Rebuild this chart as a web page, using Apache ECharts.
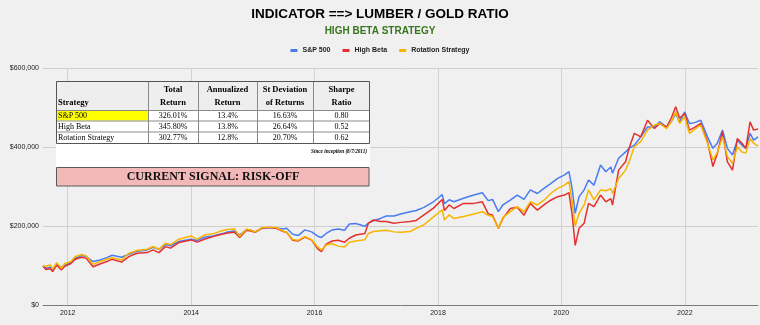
<!DOCTYPE html>
<html>
<head>
<meta charset="utf-8">
<script src="https://cdn.jsdelivr.net/npm/echarts@6/dist/echarts.min.js"></script>
<style>
  html, body { margin: 0; padding: 0; background: #f0f0f0; }
  #chart { width: 760px; height: 325px; }
</style>
</head>
<body>
<div id="chart"></div>
<script>
// Growth of $100,000 since inception, sampled dates
const dates = [
  '2011-08-08','2011-08-25','2011-09-20','2011-10-04','2011-10-28','2011-11-25','2011-12-15',
  '2012-01-20','2012-02-15','2012-03-25','2012-04-20','2012-05-30','2012-07-10','2012-08-20',
  '2012-09-20','2012-11-15','2012-12-28','2013-02-15','2013-04-15','2013-05-20','2013-06-24',
  '2013-08-01','2013-09-01','2013-10-20','2013-12-31','2014-02-05','2014-03-20','2014-05-10',
  '2014-07-01','2014-08-05','2014-09-15','2014-10-15','2014-11-25','2014-12-20','2015-01-15',
  '2015-02-25','2015-04-10','2015-05-20','2015-06-30','2015-07-20','2015-08-25','2015-09-28',
  '2015-11-05','2015-12-15','2016-01-20','2016-02-11','2016-03-10','2016-04-15','2016-05-20',
  '2016-06-27','2016-07-25','2016-09-01','2016-10-25','2016-11-15','2016-12-15','2017-01-25',
  '2017-03-01','2017-04-15','2017-05-25','2017-07-20','2017-08-25','2017-10-10','2017-12-05',
  '2018-01-26','2018-02-08','2018-03-08','2018-04-05','2018-06-01','2018-08-01','2018-09-20',
  '2018-10-25','2018-11-20','2018-12-24','2019-01-20','2019-03-05','2019-04-15','2019-05-25',
  '2019-07-01','2019-08-12','2019-09-20','2019-10-30','2019-12-10','2020-01-20','2020-02-15',
  '2020-03-05','2020-03-23','2020-04-15','2020-05-15','2020-06-10','2020-07-12','2020-08-20',
  '2020-09-20','2020-10-20','2020-10-30','2020-12-05','2021-01-15','2021-02-05','2021-03-08',
  '2021-04-15','2021-05-25','2021-07-05','2021-08-05','2021-09-15','2021-10-12','2021-11-08',
  '2021-12-01','2021-12-31','2022-01-28','2022-02-28','2022-04-05','2022-05-15','2022-06-16',
  '2022-07-12','2022-08-12','2022-09-10','2022-10-10','2022-11-08','2022-12-05','2022-12-28',
  '2023-01-22','2023-02-12','2023-03-10'
];

const sp500 = [
  100000, 94000, 97000, 90000, 104000, 97000, 101000,
  108000, 119500, 126000, 123600, 111000, 115000, 121000,
  127000, 122000, 129600, 137000, 140500, 147000, 142000,
  154000, 151000, 161500, 167500, 164000, 172500, 175800,
  181000, 186000, 188000, 178000, 192000, 190000, 186000,
  195000, 197000, 196000, 193000, 195000, 180000, 177000,
  191000, 186000, 175000, 172000, 182000, 191000, 193000,
  190000, 206000, 207000, 200000, 208000, 214000, 220000,
  226000, 226000, 231000, 237000, 240000, 248000, 262000,
  280000, 257000, 267000, 262000, 271000, 279000, 285000,
  265000, 268000, 237000, 254000, 266000, 279000, 268000,
  292000, 283000, 296000, 308000, 321000, 330000, 338000,
  295000, 233000, 275000, 292000, 317000, 304000, 355000,
  338000, 350000, 334000, 372000, 388000, 397000, 405000,
  426000, 451000, 451000, 464000, 451000, 464000, 485000,
  464000, 489000, 460000, 462000, 468000, 426000, 397000,
  410000, 443000, 397000, 380000, 418000, 405000, 397000,
  435000, 418000, 426010
];

const highBeta = [
  100000, 91000, 93000, 85800, 102000, 90000, 99000,
  106000, 117000, 122000, 119000, 98000, 105000, 111000,
  117000, 109500, 123600, 132000, 133700, 140500, 133700,
  148800, 145000, 159000, 165700, 160000, 167500, 174000,
  180000, 183000, 185000, 172000, 190000, 188000, 185000,
  196000, 197000, 195000, 187000, 185000, 165000, 163000,
  173000, 165000, 143000, 136000, 155000, 163000, 165000,
  160000, 170000, 178000, 182000, 208000, 216000, 212000,
  212000, 208000, 210000, 212000, 215000, 229000, 246000,
  268000, 240000, 254000, 245000, 258000, 258000, 262000,
  232000, 228000, 195000, 220000, 245000, 248000, 228000,
  258000, 241000, 254000, 266000, 275000, 279000, 285000,
  230000, 152000, 195000, 208000, 258000, 250000, 279000,
  262000, 270000, 254000, 342000, 363000, 397000, 435000,
  426000, 468000, 447000, 460000, 451000, 473000, 502000,
  473000, 485000, 443000, 450000, 460000, 414000, 351000,
  384000, 439000, 363000, 342000, 422000, 410000, 397000,
  464000, 443000, 445800
];

const rotation = [
  100000, 99000, 102700, 92000, 108000, 94000, 106000,
  111000, 123600, 128700, 125000, 104000, 111000, 117000,
  121000, 115000, 132000, 139000, 142000, 149000, 142000,
  157000, 154000, 167500, 175800, 167500, 178000, 181000,
  189000, 192000, 193000, 175000, 193000, 190000, 186000,
  197000, 198000, 197000, 188000, 185000, 167000, 165000,
  174000, 166000, 148000, 140000, 153000, 156000, 150000,
  148000, 160000, 163000, 166000, 182000, 187000, 189000,
  190000, 186000, 185000, 187000, 195000, 204000, 224000,
  242000, 216000, 229000, 220000, 225000, 231000, 237000,
  228000, 225000, 195000, 222000, 237000, 250000, 237000,
  262000, 254000, 266000, 283000, 296000, 304000, 313000,
  262000, 201000, 233000, 254000, 292000, 267000, 292000,
  290000, 295000, 283000, 321000, 342000, 363000, 401000,
  414000, 443000, 456000, 460000, 447000, 464000, 489000,
  460000, 477000, 435000, 445000, 456000, 410000, 368000,
  386000, 426000, 376000, 359000, 401000, 388000, 385000,
  422000, 410000, 402770
];

const seriesNames = ['S&P 500', 'High Beta', 'Rotation Strategy'];
const yearTicks = [2012, 2014, 2016, 2018, 2020, 2022];
const startDate = '2011-08-08';
const endDate = '2023-03-10';

// Performance summary table
const statHeaders = [['Strategy'], ['Total', 'Return'], ['Annualized', 'Return'], ['St Deviation', 'of Returns'], ['Sharpe', 'Ratio']];
const statRows = [
  ['S&P 500', '326.01%', '13.4%', '16.63%', '0.80'],
  ['High Beta', '345.80%', '13.8%', '26.64%', '0.52'],
  ['Rotation Strategy', '302.77%', '12.8%', '20.70%', '0.62']
];
const inceptionNote = 'Since inception (8/7/2011)';
const signalText = 'CURRENT SIGNAL: RISK-OFF';

// ---- table drawing helpers ----
const SERIF = '"Liberation Serif", "DejaVu Serif", serif';
const colX = [56, 148, 198, 257, 313, 370];
const rowY = [81, 110, 120.5, 131.5, 143];

function buildTableGraphics() {
  const els = [];
  const Z = 100;
  // white backing panel
  els.push({ type: 'rect', z: Z, shape: { x: 56, y: 81, width: 314, height: 86 }, style: { fill: '#ffffff' } });
  // header band
  els.push({ type: 'rect', z: Z, shape: { x: colX[0], y: rowY[0], width: colX[5] - colX[0], height: rowY[1] - rowY[0] }, style: { fill: '#eeeeee' } });
  // highlighted first cell
  els.push({ type: 'rect', z: Z, shape: { x: colX[0], y: rowY[1], width: colX[1] - colX[0], height: rowY[2] - rowY[1] }, style: { fill: '#ffff00' } });
  // grid lines
  for (let i = 1; i < rowY.length - 1; i++) {
    els.push({ type: 'line', z: Z + 1, shape: { x1: colX[0], y1: rowY[i] + 0.5, x2: colX[5], y2: rowY[i] + 0.5 }, style: { stroke: '#8a8a8a', lineWidth: 1 } });
  }
  for (let i = 1; i < colX.length - 1; i++) {
    els.push({ type: 'line', z: Z + 1, shape: { x1: colX[i] + 0.5, y1: rowY[0], x2: colX[i] + 0.5, y2: rowY[4] }, style: { stroke: '#8a8a8a', lineWidth: 1 } });
  }
  els.push({ type: 'rect', z: Z + 2, shape: { x: colX[0] + 0.5, y: rowY[0] + 0.5, width: colX[5] - colX[0] - 1, height: rowY[4] - rowY[0] }, style: { fill: 'none', stroke: '#555555', lineWidth: 1 } });

  // header text
  statHeaders.forEach((lines, c) => {
    if (c === 0) {
      els.push({ type: 'text', z: Z + 3, style: { text: lines[0], x: colX[0] + 2, y: 102.5, font: 'bold 8.5px ' + SERIF, fill: '#000', align: 'left', verticalAlign: 'middle' } });
    } else {
      const cx = (colX[c] + colX[c + 1]) / 2;
      els.push({ type: 'text', z: Z + 3, style: { text: lines[0], x: cx, y: 90, font: 'bold 8.5px ' + SERIF, fill: '#000', align: 'center', verticalAlign: 'middle' } });
      els.push({ type: 'text', z: Z + 3, style: { text: lines[1], x: cx, y: 102.5, font: 'bold 8.5px ' + SERIF, fill: '#000', align: 'center', verticalAlign: 'middle' } });
    }
  });
  // body text
  statRows.forEach((row, r) => {
    const cy = (rowY[r + 1] + rowY[r + 2]) / 2 + 0.5;
    row.forEach((cell, c) => {
      if (c === 0) {
        els.push({ type: 'text', z: Z + 3, style: { text: cell, x: colX[0] + 2, y: cy, font: '8px ' + SERIF, fill: '#000', align: 'left', verticalAlign: 'middle' } });
      } else {
        els.push({ type: 'text', z: Z + 3, style: { text: cell, x: (colX[c] + colX[c + 1]) / 2, y: cy, font: '8px ' + SERIF, fill: '#000', align: 'center', verticalAlign: 'middle' } });
      }
    });
  });
  // inception note
  els.push({ type: 'text', z: Z + 3, style: { text: inceptionNote, x: 367, y: 151.5, font: 'italic bold 5.2px ' + SERIF, fill: '#000', align: 'right', verticalAlign: 'middle' } });
  // signal banner
  els.push({ type: 'rect', z: Z, shape: { x: 56.5, y: 167.5, width: 312.5, height: 18.5 }, style: { fill: '#f3b9b9', stroke: '#5a5a5a', lineWidth: 1 } });
  els.push({ type: 'text', z: Z + 3, style: { text: signalText, x: 213, y: 177, font: 'bold 12px ' + SERIF, fill: '#111', align: 'center', verticalAlign: 'middle' } });
  return els;
}

const chart = echarts.init(document.getElementById('chart'), null, { renderer: 'canvas' });
const SANS = '"Liberation Sans", Arial, sans-serif';

// dates as epoch milliseconds (UTC) on a numeric axis
const toMs = s => Date.parse(s + 'T00:00:00Z');
const yearValues = yearTicks.map(y => Date.UTC(y, 0, 1));

function money(v) {
  return '$' + String(Math.round(v)).replace(/\B(?=(\d{3})+(?!\d))/g, ',');
}

const colors = ['#4a7bf0', '#e3302f', '#f7b500'];
const seriesValues = [sp500, highBeta, rotation];

chart.setOption({
  backgroundColor: '#f0f0f0',
  animation: false,
  color: colors,
  title: [
    { text: 'INDICATOR ==> LUMBER / GOLD RATIO', left: 'center', top: 2,
      textStyle: { fontFamily: SANS, fontSize: 13.5, fontWeight: 'bold', color: '#000' } },
    { text: 'HIGH BETA STRATEGY', left: 'center', top: 21.5,
      textStyle: { fontFamily: SANS, fontSize: 10, fontWeight: 'bold', color: '#38761d' } }
  ],
  legend: {
    data: seriesNames, top: 42, left: 'center', icon: 'rect',
    itemWidth: 7, itemHeight: 3, itemGap: 12,
    textStyle: { fontFamily: SANS, fontSize: 7, fontWeight: 'bold', color: '#222' }
  },
  grid: { left: 43, right: 2, top: 68, bottom: 19.5, containLabel: false },
  xAxis: {
    type: 'value',
    min: toMs(startDate),
    max: toMs(endDate),
    axisLine: { show: true, onZero: false, lineStyle: { color: '#7a7a7a', width: 1 } },
    axisTick: { show: false, customValues: yearValues },
    axisLabel: {
      customValues: yearValues,
      formatter: v => String(new Date(v).getUTCFullYear()),
      fontFamily: SANS, fontSize: 7, color: '#222', margin: 4
    },
    splitLine: { show: true, lineStyle: { color: '#d2d2d2', width: 1 } }
  },
  yAxis: {
    type: 'value', min: 0, max: 600000, interval: 200000,
    axisLine: { show: false }, axisTick: { show: false },
    axisLabel: { formatter: money, fontFamily: SANS, fontSize: 7, color: '#222', margin: 4 },
    splitLine: { show: true, lineStyle: { color: '#cfcfcf', width: 1 } }
  },
  series: seriesNames.map((name, k) => ({
    name, type: 'line', showSymbol: false, symbol: 'none',
    lineStyle: { width: 1.5, color: colors[k] },
    data: dates.map((d, i) => [toMs(d), seriesValues[k][i]])
  })),
  graphic: buildTableGraphics()
});
</script>
</body>
</html>
